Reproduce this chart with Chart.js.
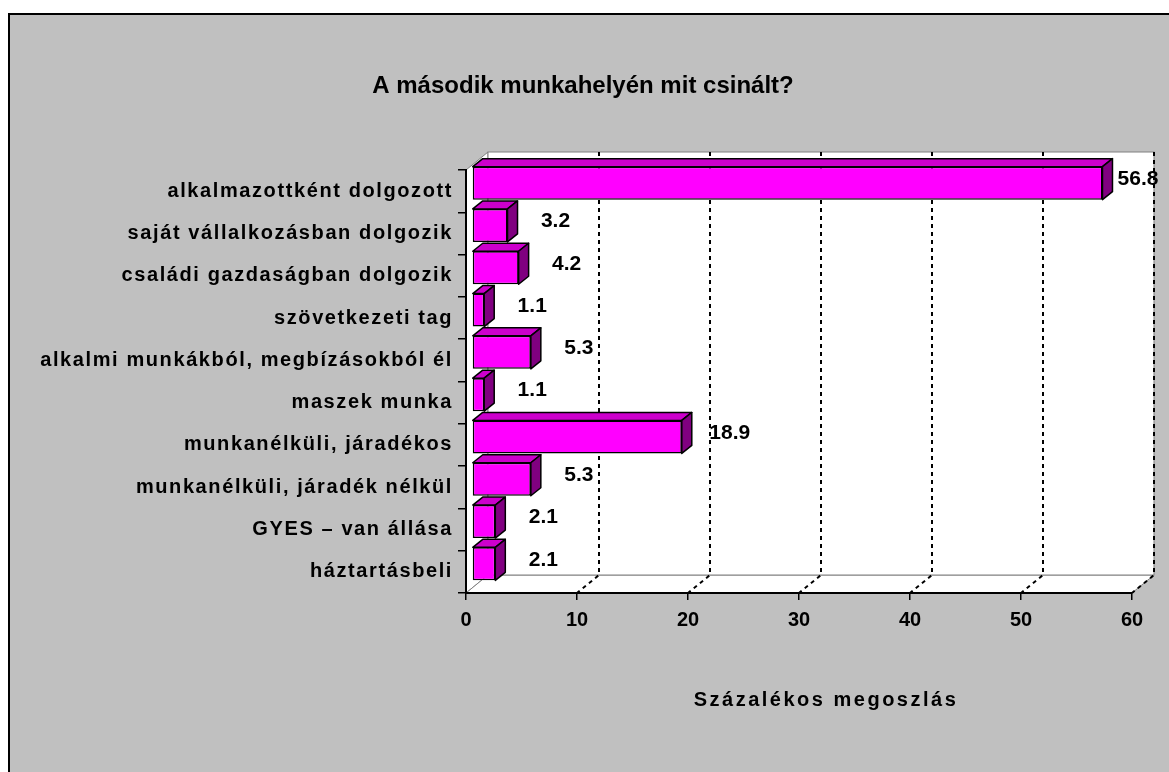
<!DOCTYPE html>
<html>
<head>
<meta charset="utf-8">
<script src="https://cdn.jsdelivr.net/npm/chart.js@4.4.1/dist/chart.umd.min.js"></script>
<style>
  html, body { margin: 0; padding: 0; background: #fff; overflow: hidden; }
  #frame { position: absolute; left: 8px; top: 13px; width: 1200px; height: 800px; border: 2px solid #000; background: #c0c0c0; }
  #chart { position: absolute; left: 0; top: 0; }
</style>
</head>
<body>
<div id="frame"></div>
<canvas id="chart" width="1169" height="772"></canvas>
<script>
// Data
const categories = [
  'alkalmazottként dolgozott',
  'saját vállalkozásban dolgozik',
  'családi gazdaságban dolgozik',
  'szövetkezeti tag',
  'alkalmi munkákból, megbízásokból él',
  'maszek munka',
  'munkanélküli, járadékos',
  'munkanélküli, járadék nélkül',
  'GYES – van állása',
  'háztartásbeli'
];
const values = [56.8, 3.2, 4.2, 1.1, 5.3, 1.1, 18.9, 5.3, 2.1, 2.1];
const xTicks = [0, 10, 20, 30, 40, 50, 60];
const chartTitle = 'A második munkahelyén mit csinált?';
const axisTitle = 'Százalékos megoszlás';

const FONT = '"Liberation Sans", Arial, sans-serif';
const WALL = { dx: 22, dy: -18 };   // depth of the floor / back wall
const BAR = { dx: 10, dy: -8 };     // depth of each bar
const SHIFT = { dx: 6, dy: -8 };    // bars sit a bit inside the box

const walls = {
  id: 'walls',
  beforeDraw(chart) {
    const ctx = chart.ctx;
    const a = chart.chartArea;
    const xs = chart.scales.x;
    ctx.save();
    ctx.fillStyle = '#fff';
    ctx.strokeStyle = '#808080';
    ctx.lineWidth = 1;
    // side wall
    ctx.beginPath();
    ctx.moveTo(a.left, a.top);
    ctx.lineTo(a.left + WALL.dx, a.top + WALL.dy);
    ctx.lineTo(a.left + WALL.dx, a.bottom + WALL.dy);
    ctx.lineTo(a.left, a.bottom);
    ctx.closePath();
    ctx.fill(); ctx.stroke();
    // floor
    ctx.beginPath();
    ctx.moveTo(a.left, a.bottom);
    ctx.lineTo(a.right, a.bottom);
    ctx.lineTo(a.right + WALL.dx, a.bottom + WALL.dy);
    ctx.lineTo(a.left + WALL.dx, a.bottom + WALL.dy);
    ctx.closePath();
    ctx.fill(); ctx.stroke();
    // back wall
    ctx.fillRect(a.left + WALL.dx, a.top + WALL.dy, a.right - a.left, a.bottom - a.top);
    ctx.strokeRect(a.left + WALL.dx, a.top + WALL.dy, a.right - a.left, a.bottom - a.top);
    // dashed gridlines on back wall and floor
    ctx.strokeStyle = '#000';
    ctx.lineWidth = 2;
    ctx.setLineDash([4, 4]);
    xTicks.slice(1).forEach(v => {
      const px = xs.getPixelForValue(v);
      ctx.beginPath();
      ctx.moveTo(px + WALL.dx, a.top + WALL.dy);
      ctx.lineTo(px + WALL.dx, a.bottom + WALL.dy);
      ctx.lineTo(px, a.bottom);
      ctx.stroke();
    });
    ctx.restore();
    // spacing for the category labels, drawn next
    ctx.letterSpacing = '1.6px';
  },
  beforeDatasetsDraw(chart) {
    const ctx = chart.ctx;
    ctx.letterSpacing = '0px';
    ctx.save();
    ctx.translate(SHIFT.dx, SHIFT.dy);
  },
  afterDatasetsDraw(chart) {
    const ctx = chart.ctx;
    const meta = chart.getDatasetMeta(0);
    ctx.lineWidth = 1.5;
    ctx.strokeStyle = '#000';
    ctx.lineJoin = 'round';
    meta.data.forEach(bar => {
      const l = bar.base, r = bar.x;
      const t = bar.y - bar.height / 2, b = bar.y + bar.height / 2;
      // top face
      ctx.beginPath();
      ctx.moveTo(l, t);
      ctx.lineTo(l + BAR.dx, t + BAR.dy);
      ctx.lineTo(r + BAR.dx, t + BAR.dy);
      ctx.lineTo(r, t);
      ctx.closePath();
      ctx.fillStyle = '#cc00cc';
      ctx.fill(); ctx.stroke();
      // side face
      ctx.beginPath();
      ctx.moveTo(r, t);
      ctx.lineTo(r + BAR.dx, t + BAR.dy);
      ctx.lineTo(r + BAR.dx, b + BAR.dy);
      ctx.lineTo(r, b);
      ctx.closePath();
      ctx.fillStyle = '#800080';
      ctx.fill(); ctx.stroke();
    });
    ctx.restore();
    // value labels
    const xs = chart.scales.x;
    const a = chart.chartArea;
    ctx.save();
    ctx.font = 'bold 21px ' + FONT;
    ctx.fillStyle = '#000';
    ctx.textAlign = 'center';
    ctx.textBaseline = 'middle';
    meta.data.forEach((bar, i) => {
      const cx = Math.min(xs.getPixelForValue(values[i]) + 54, a.right + 6);
      ctx.fillText(values[i].toFixed(1), cx, bar.y - 12);
    });
    ctx.restore();
  },
  afterDraw(chart) {
    const ctx = chart.ctx;
    ctx.save();
    ctx.fillStyle = '#000';
    ctx.textAlign = 'center';
    ctx.textBaseline = 'middle';
    ctx.font = 'bold 24px ' + FONT;
    ctx.fillText(chartTitle, 583, 86);
    ctx.font = 'bold 20px ' + FONT;
    ctx.letterSpacing = '2.5px';
    ctx.fillText(axisTitle, 826, 700);
    ctx.restore();
  }
};

new Chart(document.getElementById('chart'), {
  type: 'bar',
  data: {
    labels: categories,
    datasets: [{
      data: values,
      backgroundColor: '#ff00ff',
      borderColor: '#000',
      borderWidth: 1.5,
      borderSkipped: false,
      barPercentage: 0.78,
      categoryPercentage: 1,
      clip: false
    }]
  },
  options: {
    indexAxis: 'y',
    responsive: false,
    animation: false,
    layout: { padding: { top: 170, right: 37, bottom: 100, left: 0 } },
    plugins: {
      legend: { display: false },
      tooltip: { enabled: false }
    },
    scales: {
      x: {
        min: 0,
        max: 60,
        afterBuildTicks: s => { s.ticks = xTicks.map(v => ({ value: v })); },
        afterFit: s => { s.height = 79; },
        grid: { drawOnChartArea: false, drawTicks: true, tickLength: 7, color: '#000', lineWidth: 1.5 },
        border: { display: true, color: '#000', width: 2 },
        ticks: { z: 1, color: '#000', padding: 8, maxRotation: 0, font: { family: FONT, size: 20, weight: 'bold' } }
      },
      y: {
        afterFit: s => { s.width = 466; },
        grid: { drawOnChartArea: false, drawTicks: true, tickLength: 8, color: '#000', lineWidth: 1.5 },
        border: { display: true, color: '#000', width: 2 },
        ticks: { color: '#000', padding: 5, autoSkip: false, font: { family: FONT, size: 20, weight: 'bold' } }
      }
    }
  },
  plugins: [walls]
});
</script>
</body>
</html>
